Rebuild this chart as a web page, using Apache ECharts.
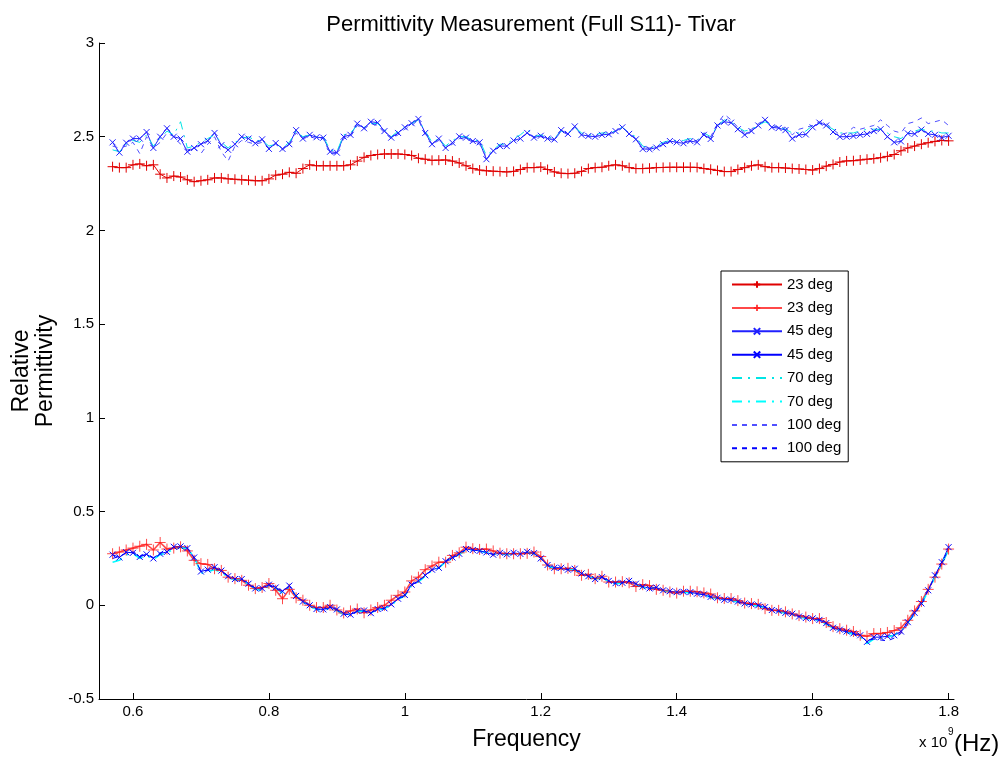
<!DOCTYPE html>
<html>
<head>
<meta charset="utf-8">
<script src="https://cdn.jsdelivr.net/npm/echarts@6/dist/echarts.min.js"></script>
<style>
  html, body { margin: 0; padding: 0; background: #fff; }
  #chart { width: 1007px; height: 758px; }
</style>
</head>
<body>
<div id="chart"></div>
<script>
// Frequency samples (x 10^9 Hz)
const freqGHz = [
  0.57,0.58,0.59,0.60,0.61,0.62,0.63,0.64,0.65,0.66,
  0.67,0.68,0.69,0.70,0.71,0.72,0.73,0.74,0.75,0.76,
  0.77,0.78,0.79,0.80,0.81,0.82,0.83,0.84,0.85,0.86,
  0.87,0.88,0.89,0.90,0.91,0.92,0.93,0.94,0.95,0.96,
  0.97,0.98,0.99,1.00,1.01,1.02,1.03,1.04,1.05,1.06,
  1.07,1.08,1.09,1.10,1.11,1.12,1.13,1.14,1.15,1.16,
  1.17,1.18,1.19,1.20,1.21,1.22,1.23,1.24,1.25,1.26,
  1.27,1.28,1.29,1.30,1.31,1.32,1.33,1.34,1.35,1.36,
  1.37,1.38,1.39,1.40,1.41,1.42,1.43,1.44,1.45,1.46,
  1.47,1.48,1.49,1.50,1.51,1.52,1.53,1.54,1.55,1.56,
  1.57,1.58,1.59,1.60,1.61,1.62,1.63,1.64,1.65,1.66,
  1.67,1.68,1.69,1.70,1.71,1.72,1.73,1.74,1.75,1.76,
  1.77,1.78,1.79,1.80
];

const xTickValues = [0.6, 0.8, 1, 1.2, 1.4, 1.6, 1.8];

// 23 deg
const red23Upper = [
  2.340,2.335,2.335,2.350,2.355,2.345,2.350,2.300,2.280,2.290,
  2.285,2.270,2.260,2.265,2.270,2.280,2.280,2.275,2.273,2.270,
  2.268,2.265,2.265,2.275,2.295,2.300,2.310,2.305,2.330,2.350,
  2.345,2.345,2.345,2.345,2.345,2.350,2.370,2.390,2.400,2.405,
  2.408,2.408,2.408,2.405,2.400,2.385,2.380,2.374,2.375,2.376,
  2.370,2.360,2.345,2.330,2.322,2.318,2.316,2.314,2.312,2.315,
  2.325,2.335,2.335,2.338,2.325,2.312,2.305,2.303,2.305,2.315,
  2.330,2.335,2.337,2.345,2.350,2.345,2.335,2.330,2.330,2.332,
  2.335,2.336,2.337,2.337,2.337,2.337,2.336,2.330,2.326,2.320,
  2.314,2.314,2.325,2.335,2.345,2.350,2.340,2.335,2.335,2.333,
  2.330,2.328,2.325,2.322,2.330,2.343,2.352,2.365,2.371,2.372,
  2.376,2.380,2.383,2.388,2.395,2.405,2.425,2.440,2.450,2.460,
  2.468,2.475,2.480,2.478
];
const red23Lower = [
  0.275,0.284,0.295,0.305,0.315,0.325,0.295,0.335,0.300,0.305,
  0.312,0.290,0.240,0.222,0.218,0.195,0.186,0.150,0.142,0.133,
  0.107,0.089,0.095,0.116,0.080,0.035,0.085,0.040,0.027,0.000,
  -0.012,-0.012,0.000,-0.025,-0.041,-0.030,-0.020,-0.040,-0.025,-0.012,
  0.000,0.027,0.053,0.071,0.130,0.150,0.190,0.210,0.230,0.230,
  0.266,0.280,0.310,0.302,0.298,0.300,0.290,0.278,0.275,0.275,
  0.275,0.277,0.284,0.260,0.215,0.195,0.195,0.197,0.186,0.160,
  0.165,0.142,0.155,0.124,0.124,0.126,0.120,0.100,0.110,0.105,
  0.085,0.080,0.071,0.065,0.075,0.075,0.072,0.066,0.060,0.040,
  0.036,0.036,0.025,0.012,0.009,0.005,-0.018,-0.027,-0.027,-0.035,
  -0.046,-0.055,-0.063,-0.071,-0.071,-0.092,-0.114,-0.125,-0.133,-0.140,
  -0.160,-0.165,-0.151,-0.151,-0.145,-0.135,-0.120,-0.080,-0.030,0.020,
  0.085,0.150,0.220,0.300
];

// 45 deg
const blue45Upper = [
  2.470,2.415,2.468,2.490,2.490,2.525,2.440,2.500,2.545,2.500,
  2.490,2.420,2.440,2.460,2.478,2.520,2.455,2.430,2.460,2.500,
  2.490,2.465,2.486,2.435,2.466,2.435,2.460,2.535,2.490,2.510,
  2.497,2.495,2.420,2.415,2.500,2.510,2.570,2.545,2.580,2.575,
  2.530,2.495,2.520,2.550,2.572,2.595,2.520,2.460,2.490,2.440,
  2.468,2.502,2.495,2.477,2.470,2.380,2.425,2.450,2.450,2.480,
  2.490,2.520,2.495,2.505,2.490,2.485,2.535,2.515,2.555,2.510,
  2.504,2.500,2.510,2.513,2.530,2.550,2.515,2.486,2.435,2.433,
  2.442,2.460,2.477,2.470,2.465,2.477,2.470,2.510,2.488,2.560,
  2.580,2.575,2.540,2.510,2.530,2.560,2.590,2.550,2.546,2.535,
  2.490,2.510,2.512,2.550,2.575,2.560,2.525,2.500,2.500,2.504,
  2.510,2.515,2.530,2.540,2.500,2.470,2.475,2.518,2.515,2.538,
  2.515,2.510,2.495,2.505
];
const blue45Lower = [
  0.270,0.255,0.283,0.280,0.258,0.272,0.250,0.275,0.285,0.312,
  0.314,0.305,0.255,0.180,0.190,0.203,0.185,0.155,0.140,0.140,
  0.115,0.090,0.090,0.110,0.095,0.075,0.105,0.050,0.020,0.000,
  -0.020,-0.022,-0.010,-0.022,-0.045,-0.050,-0.030,-0.028,-0.042,-0.020,
  -0.016,0.005,0.035,0.055,0.110,0.130,0.160,0.190,0.200,0.235,
  0.255,0.275,0.300,0.295,0.290,0.282,0.270,0.280,0.272,0.280,
  0.274,0.285,0.278,0.250,0.215,0.200,0.200,0.190,0.195,0.170,
  0.155,0.140,0.150,0.130,0.118,0.120,0.130,0.115,0.100,0.090,
  0.095,0.080,0.075,0.070,0.072,0.070,0.062,0.058,0.045,0.040,
  0.030,0.030,0.020,0.010,0.005,0.000,-0.010,-0.025,-0.030,-0.040,
  -0.045,-0.060,-0.068,-0.070,-0.078,-0.095,-0.120,-0.130,-0.140,-0.150,
  -0.160,-0.195,-0.170,-0.170,-0.165,-0.160,-0.140,-0.090,-0.040,0.010,
  0.080,0.160,0.230,0.310
];

// 70 deg
const cyan70Upper = [
  2.43,2.42,2.46,2.48,2.47,2.51,2.45,2.49,2.53,2.51,
  2.58,2.44,2.45,2.47,2.49,2.51,2.47,2.44,2.47,2.49,
  2.50,2.48,2.48,2.45,2.46,2.44,2.47,2.53,2.50,2.51,
  2.50,2.50,2.43,2.42,2.51,2.52,2.56,2.55,2.57,2.57,
  2.54,2.50,2.53,2.55,2.57,2.59,2.53,2.47,2.49,2.45,
  2.48,2.50,2.50,2.48,2.48,2.40,2.43,2.46,2.46,2.49,
  2.51,2.54,2.50,2.51,2.50,2.49,2.53,2.52,2.55,2.52,
  2.51,2.51,2.52,2.52,2.53,2.55,2.52,2.50,2.45,2.44,
  2.45,2.47,2.48,2.48,2.48,2.49,2.48,2.52,2.50,2.56,
  2.59,2.58,2.55,2.53,2.54,2.56,2.58,2.56,2.55,2.54,
  2.52,2.52,2.53,2.56,2.57,2.56,2.54,2.52,2.52,2.52,
  2.53,2.54,2.54,2.54,2.52,2.50,2.49,2.52,2.53,2.54,
  2.53,2.53,2.52,2.52
];
const cyan70Lower = [
  0.230,0.240,0.270,0.275,0.250,0.265,0.245,0.270,0.280,0.300,
  0.310,0.300,0.260,0.170,0.180,0.190,0.175,0.150,0.135,0.135,
  0.110,0.085,0.080,0.100,0.090,0.065,0.095,0.050,0.015,-0.005,
  -0.022,-0.025,-0.015,-0.028,-0.050,-0.048,-0.035,-0.030,-0.040,-0.025,
  -0.018,0.000,0.030,0.050,0.105,0.125,0.155,0.185,0.200,0.230,
  0.250,0.270,0.295,0.295,0.290,0.280,0.275,0.275,0.270,0.275,
  0.275,0.280,0.275,0.250,0.210,0.195,0.195,0.190,0.190,0.165,
  0.155,0.140,0.145,0.125,0.115,0.118,0.125,0.110,0.095,0.090,
  0.090,0.078,0.072,0.068,0.070,0.066,0.060,0.055,0.042,0.036,
  0.028,0.027,0.016,0.006,0.000,-0.004,-0.014,-0.028,-0.034,-0.043,
  -0.050,-0.062,-0.070,-0.075,-0.082,-0.100,-0.122,-0.135,-0.145,-0.155,
  -0.170,-0.205,-0.180,-0.175,-0.170,-0.160,-0.135,-0.095,-0.045,0.005,
  0.075,0.150,0.220,0.295
];

// 100 deg
const dash100Upper = [
  2.45,2.44,2.45,2.47,2.41,2.50,2.44,2.47,2.52,2.50,
  2.46,2.43,2.44,2.41,2.46,2.50,2.42,2.37,2.45,2.48,
  2.47,2.46,2.47,2.44,2.46,2.43,2.46,2.52,2.49,2.50,
  2.49,2.49,2.41,2.41,2.49,2.50,2.56,2.54,2.57,2.56,
  2.52,2.49,2.51,2.54,2.56,2.59,2.51,2.46,2.48,2.44,
  2.46,2.49,2.49,2.47,2.46,2.39,2.42,2.45,2.45,2.48,
  2.49,2.52,2.50,2.50,2.49,2.48,2.53,2.51,2.55,2.51,
  2.50,2.50,2.51,2.51,2.53,2.55,2.52,2.49,2.44,2.44,
  2.44,2.46,2.47,2.47,2.47,2.48,2.48,2.52,2.50,2.57,
  2.62,2.59,2.55,2.52,2.54,2.57,2.59,2.56,2.55,2.55,
  2.51,2.54,2.55,2.56,2.58,2.57,2.54,2.51,2.52,2.55,
  2.54,2.55,2.56,2.59,2.56,2.53,2.52,2.57,2.58,2.60,
  2.57,2.58,2.59,2.56
];
const dash100Lower = [
  0.250,0.260,0.280,0.285,0.265,0.270,0.255,0.280,0.290,0.310,
  0.310,0.300,0.250,0.185,0.185,0.200,0.180,0.155,0.140,0.138,
  0.112,0.088,0.088,0.105,0.092,0.070,0.100,0.048,0.018,-0.002,
  -0.020,-0.023,-0.012,-0.025,-0.047,-0.050,-0.032,-0.030,-0.040,-0.022,
  -0.016,0.003,0.033,0.053,0.108,0.128,0.158,0.188,0.200,0.232,
  0.252,0.272,0.298,0.296,0.290,0.282,0.272,0.278,0.270,0.278,
  0.274,0.283,0.276,0.250,0.212,0.198,0.198,0.190,0.192,0.168,
  0.155,0.140,0.148,0.128,0.116,0.120,0.128,0.112,0.098,0.090,
  0.092,0.080,0.074,0.070,0.070,0.068,0.062,0.056,0.044,0.038,
  0.030,0.028,0.018,0.008,0.002,-0.002,-0.012,-0.026,-0.032,-0.042,
  -0.048,-0.060,-0.068,-0.072,-0.080,-0.098,-0.120,-0.132,-0.142,-0.152,
  -0.165,-0.190,-0.180,-0.185,-0.190,-0.175,-0.150,-0.100,-0.045,0.005,
  0.078,0.155,0.225,0.300
];

const FONT = '"Liberation Sans", Arial, Helvetica, sans-serif';
const PLUS = 'path://M5,0L5,10M0,5L10,5';
const CROSS = 'path://M0,0L10,10M10,0L0,10';

function pairs(vals) { return freqGHz.map((f, i) => [f, vals[i]]); }

function mk(name, vals, color, width, symbol, symbolSize, dash, opacity) {
  const op = opacity == null ? 1 : opacity;
  const hasSym = !!symbol;
  return {
    name: name,
    type: 'line',
    data: pairs(vals),
    symbol: hasSym ? symbol : 'circle',
    showSymbol: hasSym,
    symbolSize: hasSym ? symbolSize : 1,
    lineStyle: { color: color, width: width, type: dash || 'solid', opacity: op },
    itemStyle: hasSym
      ? { color: color, borderColor: color, borderWidth: 1, opacity: op }
      : { color: 'rgba(0,0,0,0)', borderColor: 'rgba(0,0,0,0)', borderWidth: 0 },
    emphasis: { disabled: true },
    animation: false,
    silent: true
  };
}

const series = [
  mk('23 deg #1', red23Upper, '#e00000', 1, PLUS, 10, 'solid', 1),
  mk('23 deg #2', red23Lower, '#ff1a1a', 1.6, PLUS, 11, 'solid', 0.8),
  mk('45 deg #1', blue45Upper, '#2020ff', 1, CROSS, 6, 'solid', 1),
  mk('45 deg #2', blue45Lower, '#0000ff', 1, CROSS, 6, 'solid', 1),
  mk('70 deg #1', cyan70Upper, '#00e5e5', 1, null, 0, [10, 6, 2, 6], 1),
  mk('70 deg #2', cyan70Lower, '#00ffff', 1.5, null, 0, [10, 6, 2, 6], 1),
  mk('100 deg #1', dash100Upper, '#5050ff', 1, null, 0, [5, 5], 1),
  mk('100 deg #2', dash100Lower, '#0000ff', 1, null, 0, [5, 5], 1)
];

const chart = echarts.init(document.getElementById('chart'), null, { renderer: 'canvas' });
chart.setOption({
  backgroundColor: '#fff',
  animation: false,
  title: {
    text: 'Permittivity Measurement (Full S11)- Tivar',
    left: 526,
    textAlign: 'center',
    top: 9,
    textStyle: { fontFamily: FONT, fontSize: 22, fontWeight: 'normal', color: '#000' }
  },
  grid: { left: 99, right: 53, top: 43, bottom: 59, containLabel: false },
  xAxis: {
    type: 'value',
    min: 0.55,
    max: 1.808,
    name: 'Frequency',
    nameLocation: 'middle',
    nameGap: 29,
    nameTextStyle: { fontFamily: FONT, fontSize: 23, color: '#000' },
    axisLine: { show: true, onZero: false, lineStyle: { color: '#000', width: 1 } },
    axisTick: { show: true, inside: true, length: 6, lineStyle: { color: '#000' }, customValues: xTickValues },
    axisLabel: { color: '#000', fontFamily: FONT, fontSize: 15, margin: 5, customValues: xTickValues },
    splitLine: { show: false }
  },
  yAxis: {
    type: 'value',
    min: -0.5,
    max: 3,
    interval: 0.5,
    name: 'Relative\nPermittivity',
    nameLocation: 'middle',
    nameRotate: 90,
    nameGap: 39,
    nameTextStyle: { fontFamily: FONT, fontSize: 23, color: '#000', lineHeight: 24 },
    axisLine: { show: true, onZero: false, lineStyle: { color: '#000', width: 1 } },
    axisTick: { show: true, inside: true, length: 6, lineStyle: { color: '#000' } },
    axisLabel: { color: '#000', fontFamily: FONT, fontSize: 15, margin: 5 },
    splitLine: { show: false }
  },
  legend: {
    orient: 'vertical',
    left: 721,
    top: 271,
    padding: [6, 7, 6, 10],
    itemWidth: 50,
    itemHeight: 8,
    itemGap: 8.4,
    itemTextGap: 6,
    borderColor: '#000',
    borderWidth: 1,
    borderRadius: 0,
    backgroundColor: '#fff',
    selectedMode: false,
    textStyle: { fontFamily: FONT, fontSize: 15, color: '#000' },
    formatter: function (n) { return n.replace(/ #\d$/, ''); },
    data: series.map(s => s.name)
  },
  graphic: [
    { type: 'text', left: 919, top: 735, style: { text: 'x 10', font: '15px ' + FONT, fill: '#000' } },
    { type: 'text', left: 948, top: 727, style: { text: '9', font: '10px ' + FONT, fill: '#000' } },
    { type: 'text', left: 954, top: 732, style: { text: '(Hz)', font: '24px ' + FONT, fill: '#000' } }
  ],
  series: series
});
</script>
</body>
</html>
